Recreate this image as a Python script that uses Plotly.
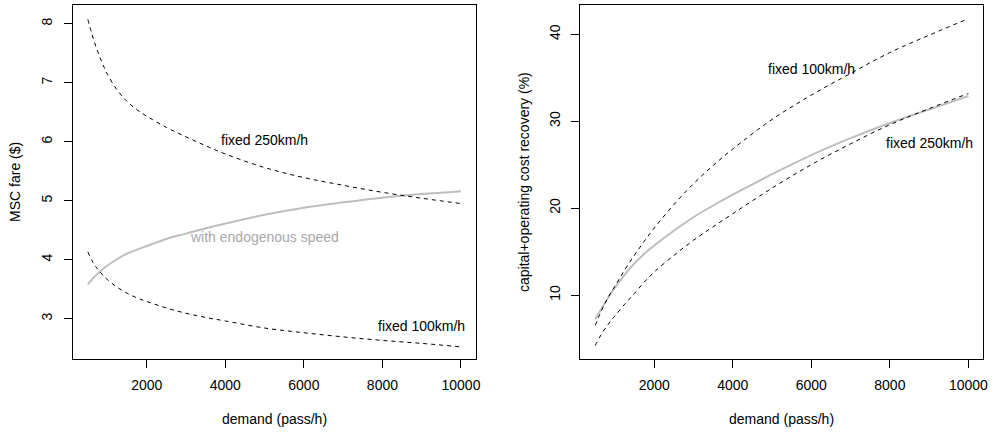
import plotly.graph_objects as go

# ---- data ----
demand = [500, 600, 700, 800, 900, 1000, 1250, 1500, 1750, 2000, 2500, 3000, 3500, 4000,
          5000, 6000, 7000, 8000, 9000, 10000]

fare_fixed250 = [8.07, 7.83, 7.62, 7.44, 7.28, 7.14, 6.87, 6.68, 6.54, 6.43, 6.24, 6.08, 5.93, 5.79,
                 5.56, 5.39, 5.26, 5.14, 5.04, 4.95]
fare_fixed100 = [4.13, 3.99, 3.88, 3.80, 3.72, 3.66, 3.53, 3.43, 3.35, 3.29, 3.18, 3.09, 3.02, 2.96,
                 2.84, 2.76, 2.69, 2.63, 2.58, 2.52]
fare_endog = [3.58, 3.66, 3.73, 3.79, 3.85, 3.90, 4.01, 4.10, 4.17, 4.23, 4.35, 4.44, 4.53, 4.61,
              4.76, 4.88, 4.97, 5.05, 5.11, 5.16]

rec_fixed100 = [6.5, 7.6, 8.6, 9.5, 10.3, 11.0, 12.9, 14.6, 16.2, 17.7, 20.4, 22.8, 24.9, 26.8,
                30.2, 33.0, 35.5, 37.9, 39.9, 41.8]
rec_fixed250 = [4.2, 5.05, 5.8, 6.45, 7.05, 7.6, 8.95, 10.2, 11.5, 12.65, 14.55, 16.3, 17.85, 19.35,
                22.3, 25.0, 27.4, 29.6, 31.45, 33.2]
rec_endog = [7.2, 8.0, 8.75, 9.5, 10.2, 10.85, 12.35, 13.65, 14.75, 15.7, 17.4, 18.95, 20.3, 21.55,
             23.9, 26.1, 28.05, 29.8, 31.35, 32.9]

x_ticks = [2000, 4000, 6000, 8000, 10000]
fare_ticks = [3, 4, 5, 6, 7, 8]
rec_ticks = [10, 20, 30, 40]

x_title = "demand (pass/h)"
fare_title = "MSC fare ($)"
rec_title = "capital+operating cost recovery (%)"

# ---- styling ----
W, H = 995, 432
FONT = "Liberation Sans, Arial, Helvetica, sans-serif"
FS = 14
GREY_LINE = "#BEBEBE"
GREY_TEXT = "#A8A8A8"

dash_style = dict(color="black", width=1, dash="4px,4px", shape="spline", smoothing=1.0)
grey_style = dict(color=GREY_LINE, width=2, shape="spline", smoothing=1.0)

fig = go.Figure()
# left panel
fig.add_trace(go.Scatter(x=demand, y=fare_endog, mode="lines", line=grey_style, xaxis="x", yaxis="y"))
fig.add_trace(go.Scatter(x=demand, y=fare_fixed250, mode="lines", line=dash_style, xaxis="x", yaxis="y"))
fig.add_trace(go.Scatter(x=demand, y=fare_fixed100, mode="lines", line=dash_style, xaxis="x", yaxis="y"))
# right panel
fig.add_trace(go.Scatter(x=demand, y=rec_endog, mode="lines", line=grey_style, xaxis="x2", yaxis="y2"))
fig.add_trace(go.Scatter(x=demand, y=rec_fixed100, mode="lines", line=dash_style, xaxis="x2", yaxis="y2"))
fig.add_trace(go.Scatter(x=demand, y=rec_fixed250, mode="lines", line=dash_style, xaxis="x2", yaxis="y2"))

ydom = [1 - 359.3 / H, 1 - 5.3 / H]
axis_common = dict(
    showline=True, linecolor="black", linewidth=1, mirror=True,
    showgrid=False, zeroline=False, ticks="outside", ticklen=8,
    tickwidth=1, tickcolor="black",
    tickfont=dict(family=FONT, size=FS, color="black"),
)

fig.update_layout(
    width=W, height=H,
    margin=dict(l=0, r=0, t=0, b=0),
    paper_bgcolor="white", plot_bgcolor="white",
    showlegend=False,
    font=dict(family=FONT, size=FS, color="black"),
    xaxis=dict(domain=[73.3 / W, 478.3 / W], range=[120, 10380], tickvals=x_ticks,
               ticktext=[str(v) for v in x_ticks], anchor="y", ticklabelstandoff=5, **axis_common),
    yaxis=dict(domain=ydom, range=[2.31, 8.31], tickvals=fare_ticks, tickangle=-90,
               anchor="x", ticklabelstandoff=6, **axis_common),
    xaxis2=dict(domain=[583.3 / W, 988.3 / W], range=[120, 10380], tickvals=x_ticks,
                ticktext=[str(v) for v in x_ticks], anchor="y2", ticklabelstandoff=5, **axis_common),
    yaxis2=dict(domain=ydom, range=[2.6, 43.34], tickvals=rec_ticks, tickangle=-90,
                anchor="x2", ticklabelstandoff=6, **axis_common),
)

def txt(text, x, y, xref, yref, color="black", angle=0):
    fig.add_annotation(text=text, x=x, y=y, xref=xref, yref=yref, showarrow=False,
                       textangle=angle, xanchor="center", yanchor="middle",
                       font=dict(family=FONT, size=FS, color=color))

# curve labels (data coordinates)
txt("fixed 250km/h", 5000, 6.03, "x", "y")
txt("with endogenous speed", 5000, 4.39, "x", "y", color=GREY_TEXT)
txt("fixed 100km/h", 9000, 2.87, "x", "y")
txt("fixed 100km/h", 6000, 36.0, "x2", "y2")
txt("fixed 250km/h", 9000, 27.5, "x2", "y2")

# axis titles (paper coordinates)
txt(x_title, 275.8 / W, 1 - 419 / H, "paper", "paper")
txt(x_title, 785.8 / W, 1 - 419 / H, "paper", "paper")
txt(fare_title, 15 / W, 1 - 182 / H, "paper", "paper", angle=-90)
txt(rec_title, 526.7 / W, 1 - 182 / H, "paper", "paper", angle=-90)

fig.write_html("out.html")
